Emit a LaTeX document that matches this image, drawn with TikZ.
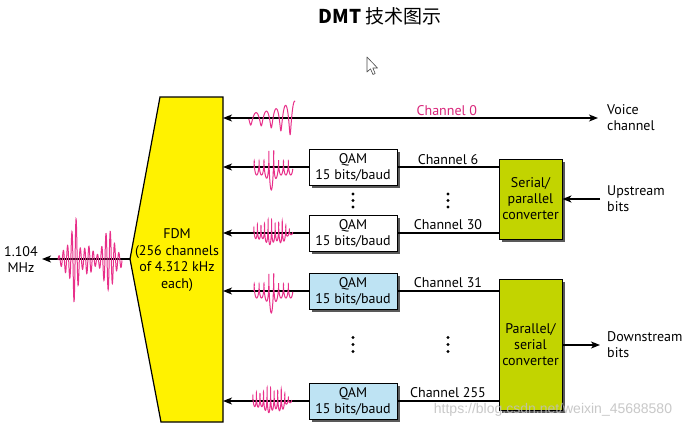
\documentclass[tikz,border=0pt]{standalone}
\usepackage{fontspec}
\setmainfont{PT Sans}
\newfontfamily\cjk{Noto Sans CJK SC}
\newfontfamily\wmfont{Liberation Sans}
\usetikzlibrary{arrows.meta,shadows}
\definecolor{fdmyellow}{HTML}{FFF200}
\definecolor{convgreen}{HTML}{C2D400}
\definecolor{qamblue}{HTML}{BEE3F3}
\definecolor{wavepink}{HTML}{E8308A}
\definecolor{chpink}{HTML}{D9257A}
\newcommand\burstwave[2]{%
  \draw[wave] plot[domain=0:1,samples=320,smooth] ({#1+39*\x+0.9*cos(360*8*\x)},{#2-(7+15*exp(-((\x-0.47)/0.1)^2))*sin(360*8*\x)});}
\newcommand\densewave[2]{%
  \draw[wave] plot[domain=0:1,samples=360,smooth] ({#1+39*\x+0.7*cos(360*11*\x)},{#2-(3+8*sin(180*\x)+2*sin(360*3*\x))*sin(360*11*\x)});}
\begin{document}
\begin{tikzpicture}[x=1pt,y=-1pt,
  font=\fontsize{14}{16}\selectfont,
  conn/.style={line width=1.2pt},
  arr/.style={line width=1.2pt,-{Stealth[length=9pt,width=7pt,inset=2.5pt]}},
  darr/.style={line width=1.2pt,{Stealth[length=9pt,width=7pt,inset=2.5pt]}-{Stealth[length=9pt,width=7pt,inset=2.5pt]}},
  wave/.style={draw=wavepink,line width=1pt},
  qambox/.style={draw,line width=0.9pt,minimum width=88pt,minimum height=36pt,inner sep=0pt,align=center,
     general shadow={fill=black!65,shadow xshift=2.5pt,shadow yshift=-2.5pt}},
  convbox/.style={draw,line width=0.9pt,fill=convgreen,minimum width=63pt,inner sep=0pt,align=center,
     general shadow={fill=black!65,shadow xshift=3pt,shadow yshift=-3pt}},
  sidelabel/.style={anchor=west,align=left,inner sep=0pt},
  chlabel/.style={above,inner sep=2pt}]
\useasboundingbox (0,0) rectangle (699,429);
\fill[white] (0,0) rectangle (699,429);

% title
\node (title) at (380,16) {\fontsize{19}{21}\selectfont\cjk{\bfseries DMT} 技术图示};

% FDM block
\coordinate (fdmTL) at (160,97);
\coordinate (fdmR) at (223,97);
\coordinate (fdmBR) at (223,422);
\coordinate (fdmBL) at (161,422);
\coordinate (fdmtip) at (130,259);
\draw[line width=1.2pt,fill=fdmyellow] (fdmTL) -- (fdmR) -- (fdmBR) -- (fdmBL) -- (fdmtip) -- cycle;
\node[align=center,inner sep=0pt,font=\fontsize{14}{16.7}\selectfont] (fdmtext) at (177,260) {FDM\\(256 channels\\of 4.312 kHz\\each)};

% output arrow
\coordinate (mhz) at (42,259);
\draw[arr] (fdmtip) -- (mhz);
\node[align=center,inner sep=0pt] (mhzlabel) at (21,260) {1.104\\MHz};

% QAM boxes
\node[qambox,fill=white] (q6) at (353,167) {QAM\\15 bits/baud};
\node[qambox,fill=white] (q30) at (353,233) {QAM\\15 bits/baud};
\node[qambox,fill=qamblue] (q31) at (353,291) {QAM\\15 bits/baud};
\node[qambox,fill=qamblue] (q255) at (353,401) {QAM\\15 bits/baud};

% converters
\node[convbox,minimum height=80pt] (sp) at (530.5,199) {Serial/\\parallel\\converter};
\node[convbox,minimum height=131pt] (ps) at (530.5,344.5) {Parallel/\\serial\\converter};

% channel 0
\coordinate (c0L) at (223,118);
\coordinate (c0R) at (598,118);
\draw[darr] (c0L) -- (c0R) node[chlabel,pos=0.597,text=chpink] (ch0) {Channel 0};
\node[sidelabel] (voice) at (607,118) {Voice\\channel};

% QAM to FDM
\draw[arr] (q6.west) -- (fdmR |- q6.west);
\draw[arr] (q30.west) -- (fdmR |- q30.west);
\draw[arr] (q31.west) -- (fdmR |- q31.west);
\draw[arr] (q255.west) -- (fdmR |- q255.west);

% QAM to converters
\draw[conn] (q6.east) -- (sp.west |- q6.east) node[chlabel,midway] (ch6) {Channel 6};
\draw[conn] (q30.east) -- (sp.west |- q30.east) node[chlabel,midway,yshift=1pt] (ch30) {Channel 30};
\draw[conn] (q31.east) -- (ps.west |- q31.east) node[chlabel,midway,yshift=1pt] (ch31) {Channel 31};
\draw[conn] (q255.east) -- (ps.west |- q255.east) node[chlabel,midway,yshift=1pt] (ch255) {Channel 255};

% upstream / downstream
\coordinate (up) at (600,199);
\draw[arr] (up) -- (sp.east);
\node[sidelabel] (uplabel) at (607,199) {Upstream\\bits};
\coordinate (down) at (600,345);
\draw[arr] (ps.east |- down) -- (down);
\node[sidelabel] (downlabel) at (607,345) {Downstream\\bits};

% dots
\foreach \yy in {194,200.5,207} {\fill (353,\yy) circle (1.7pt); \fill (448,\yy) circle (1.7pt);}
\foreach \yy in {337.5,344.5,351.5} {\fill (353,\yy) circle (1.7pt); \fill (448,\yy) circle (1.7pt);}

% waves
\draw[wave] plot[domain=0:1,samples=320,smooth] ({248+47*\x+0.8*cos(360*(4.3*\x+0.5*\x*\x))},{119+(6+12*\x*\x)*sin(360*(4.3*\x+0.5*\x*\x))});
\burstwave{253}{168}
\densewave{253}{232}
\burstwave{253}{291}
\densewave{252}{400}
\draw[wave] plot[domain=0:1,samples=500,smooth] ({58+64*\x},{260-(4+38*exp(-((\x-0.27)/0.06)^2)+16*exp(-((\x-0.8)/0.12)^2)+10*sin(360*1.6*\x)^2)*sin(360*15*\x)});

% watermark
\node[text=black!25,opacity=0.85,font=\wmfont\fontsize{14}{16}\selectfont] (wm) at (553,410) {https://blog.csdn.net/weixin\_45688580};

% cursor
\draw[fill=white,draw=black!70,line width=0.6pt,line join=round] (367,57) -- (367,72) -- (370.5,68.8) -- (373,74.5) -- (375.2,73.5) -- (372.8,68) -- (377.5,68) -- cycle;
\end{tikzpicture}
\end{document}
